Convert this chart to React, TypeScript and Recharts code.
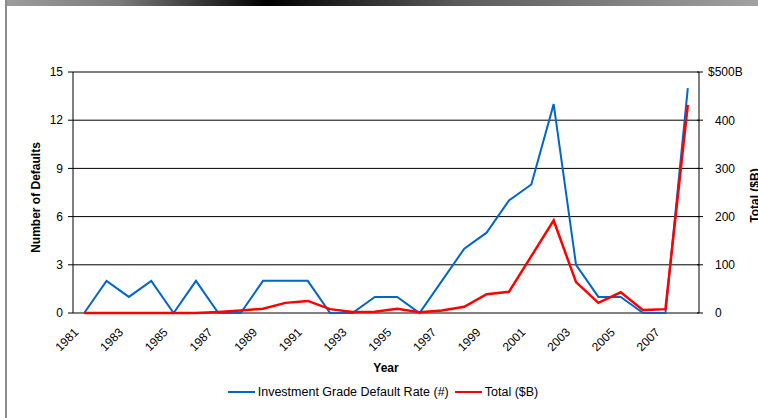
import React from 'react';
import { ComposedChart, Line, XAxis, YAxis, CartesianGrid, Legend } from 'recharts';

const years = [1981, 1982, 1983, 1984, 1985, 1986, 1987, 1988, 1989, 1990, 1991, 1992, 1993, 1994, 1995, 1996, 1997, 1998, 1999, 2000, 2001, 2002, 2003, 2004, 2005, 2006, 2007, 2008];
const defaultCounts = [0, 2, 1, 2, 0, 2, 0, 0, 2, 2, 2, 0, 0, 1, 1, 0, 2, 4, 5, 7, 8, 13, 3, 1, 1, 0, 0, 14];
const totalBillions = [0, 0, 0, 0, 0, 0, 2, 5, 9, 21, 25, 8, 2, 2.5, 9, 1.5, 5, 13, 39, 44, 118, 192, 64, 21, 43, 6, 8, 432];
const leftTicks = [0, 3, 6, 9, 12, 15];
const rightTicks = [0, 100, 200, 300, 400, 500];
const labelledYearIdx = [0, 2, 4, 6, 8, 10, 12, 14, 16, 18, 20, 22, 24, 26];

const data = years.map((y, i) => ({ idx: i, year: y, count: defaultCounts[i], total: totalBillions[i] }));
const boundaryTicks = years.map((_, i) => i - 0.5).concat([years.length - 0.5]);

const FONT = '"Liberation Sans", Arial, sans-serif';

const CrossTick = (props: any) => {
  const { x, y } = props;
  return <line x1={x} x2={x} y1={y - 3} y2={y + 3} stroke="#000" strokeWidth={1} />;
};

const XLabelTick = (props: any) => {
  const { x, y, payload } = props;
  const label = String(years[payload.value]);
  const ax = x - 5;
  const ay = y + 20;
  return (
    <text x={ax} y={ay} transform={`rotate(-45, ${ax}, ${ay})`} textAnchor="end" fontSize={12} fontFamily={FONT} fill="#000">
      {label}
    </text>
  );
};

const RightTick = (props: any) => {
  const { x, y, payload } = props;
  const v = payload.value;
  const label = v === 500 ? '$500B' : String(v);
  return (
    <g>
      <line x1={x - 2} x2={x + 4} y1={y} y2={y} stroke="#000" strokeWidth={1} />
      <text x={v === 500 ? x + 9 : x + 16} y={y} dy="0.36em" textAnchor="start" fontSize={12} fontFamily={FONT} fill="#000">
        {label}
      </text>
    </g>
  );
};

const renderLegend = (props: any) => {
  const { payload } = props;
  return (
    <div style={{ display: 'flex', justifyContent: 'center', alignItems: 'center', height: 35, paddingLeft: 8, boxSizing: 'border-box', fontFamily: FONT, fontSize: 12.5, color: '#000', paddingBottom: 18 }}>
      {(payload || []).map((e: any, i: number) => (
        <div key={i} style={{ display: 'flex', alignItems: 'center', marginRight: i === 0 ? 6 : 0 }}>
          <span style={{ display: 'inline-block', width: 27, height: 0, borderTop: `2px solid ${e.color}`, marginRight: 3 }} />
          <span>{e.value}</span>
        </div>
      ))}
    </div>
  );
};

export default function App() {
  return (
    <div style={{ position: 'absolute', left: 0, top: 0, width: 758, height: 418, background: '#fff', overflow: 'hidden' }}>
      <div style={{ position: 'absolute', left: 7, top: 0, width: 751, height: 6, background: 'linear-gradient(to right, #9d9d9d 0%, #7a7a7a 15%, #000 34.6%, #5a5a5a 60%, #a2a2a2 100%)' }} />
      <div style={{ position: 'absolute', left: 5, top: 0, width: 2, height: 418, background: '#8c8c8c' }} />
      <div style={{ position: 'absolute', left: 0, top: 0 }}>
        <ComposedChart width={758} height={418} data={data} margin={{ top: 72, right: 0, bottom: 0, left: 0 }} style={{ fontFamily: FONT }}>
          <CartesianGrid yAxisId="left" xAxisId="tk" vertical={false} stroke="#000" strokeWidth={1} />
          <XAxis
            xAxisId="tk"
            dataKey="idx"
            type="number"
            domain={[-0.5, years.length - 0.5]}
            ticks={boundaryTicks}
            interval={0}
            height={0}
            tickLine={false}
            tickSize={0}
            tickMargin={0}
            tick={<CrossTick />}
            axisLine={{ stroke: '#000', strokeWidth: 1 }}
          />
          <XAxis
            xAxisId="lab"
            dataKey="idx"
            type="number"
            domain={[-0.5, years.length - 0.5]}
            ticks={labelledYearIdx}
            interval={0}
            height={70}
            tickLine={false}
            tickSize={0}
            tickMargin={0}
            axisLine={false}
            tick={<XLabelTick />}
            label={{
              content: (p: any) => {
                const vb = p.viewBox;
                return (
                  <text x={vb.x + vb.width / 2} y={vb.y + vb.height - 11} textAnchor="middle" fontSize={12} fontWeight="bold" fontFamily={FONT} fill="#000">
                    Year
                  </text>
                );
              },
            }}
          />
          <YAxis
            yAxisId="left"
            domain={[0, 15]}
            ticks={leftTicks}
            interval={0}
            width={73}
            tickSize={5}
            tickMargin={5}
            axisLine={{ stroke: '#000' }}
            tickLine={{ stroke: '#000' }}
            tick={{ fill: '#000', fontSize: 12, fontFamily: FONT }}
            label={{
              content: (p: any) => {
                const vb = p.viewBox;
                const cx = vb.x + vb.width / 2 + 3.5;
                const cy = vb.y + vb.height / 2 + 5;
                return (
                  <text x={cx} y={cy} transform={`rotate(-90, ${cx}, ${cy})`} textAnchor="middle" fontSize={12} fontWeight="bold" fontFamily={FONT} fill="#000">
                    Number of Defaults
                  </text>
                );
              },
            }}
          />
          <YAxis
            yAxisId="right"
            orientation="right"
            domain={[0, 500]}
            ticks={rightTicks}
            interval={0}
            width={59}
            tickLine={false}
            tickSize={0}
            tickMargin={0}
            axisLine={{ stroke: '#000' }}
            tick={<RightTick />}
            label={{
              content: (p: any) => {
                const vb = p.viewBox;
                const cx = vb.x + 60;
                const cy = vb.y + vb.height / 2 + 3;
                return (
                  <text x={cx} y={cy} transform={`rotate(-90, ${cx}, ${cy})`} textAnchor="middle" fontSize={12} fontWeight="bold" fontFamily={FONT} fill="#000">
                    Total ($B)
                  </text>
                );
              },
            }}
          />
          <Legend verticalAlign="bottom" align="center" content={renderLegend} wrapperStyle={{ left: 0, width: 758, height: 35 }} />
          <Line xAxisId="lab" yAxisId="left" type="linear" dataKey="count" name="Investment Grade Default Rate (#)" stroke="#0066CC" strokeWidth={2} dot={false} isAnimationActive={false} />
          <Line xAxisId="lab" yAxisId="right" type="linear" dataKey="total" name="Total ($B)" stroke="#FF0000" strokeWidth={2.5} dot={false} isAnimationActive={false} />
        </ComposedChart>
      </div>
    </div>
  );
}
